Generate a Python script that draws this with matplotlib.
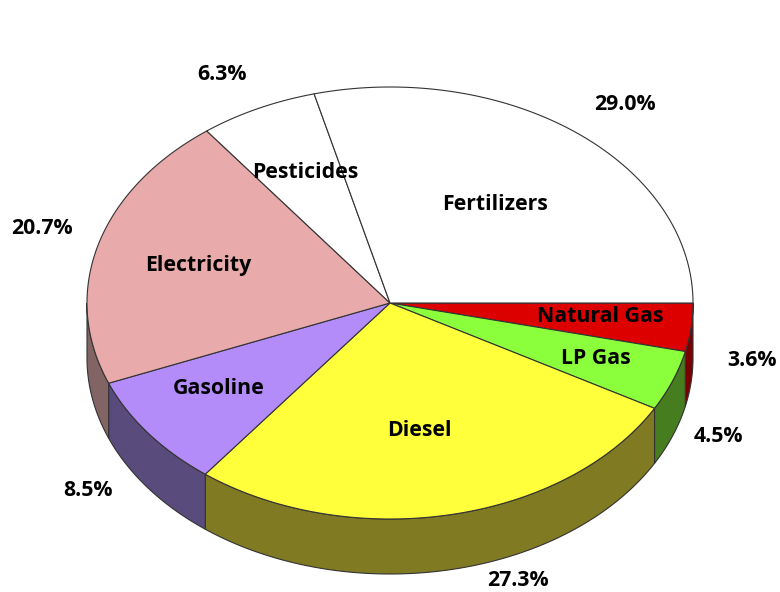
import matplotlib
matplotlib.use("Agg")
import matplotlib.pyplot as plt
import numpy as np
from matplotlib.patches import Polygon

# data, clockwise from 3 o'clock
labels = ["Natural Gas", "LP Gas", "Diesel", "Gasoline", "Electricity", "Pesticides", "Fertilizers"]
shares = [3.6, 4.5, 27.3, 8.5, 20.7, 6.3, 29.0]

top_colors = ["#dc0000", "#8cff3c", "#ffff3c", "#b48cfa", "#e8aaaa", "#ffffff", "#ffffff"]
side_colors = ["#780000", "#467d1e", "#807a23", "#5a4b7d", "#826464", "#aaaaaa", "#aaaaaa"]

# text positions (pixels)
name_pos = [(600, 317), (596, 358), (419, 430), (219, 389), (198, 265), (305, 173), (495, 205)]
pct_pos = [(752, 360), (718, 437), (518, 580), (88, 490), (42, 228), (222, 75), (625, 105)]

cx, cy = 390, 303
rx, ry = 303, 216
depth = 55
edge = "#333333"

fig = plt.figure(figsize=(7.8, 5.92), dpi=100)
ax = fig.add_axes([0, 0, 1, 1])
ax.set_xlim(0, 780)
ax.set_ylim(592, 0)
ax.axis("off")

vals = np.array(shares)
bounds = np.concatenate([[0], np.cumsum(vals) / vals.sum() * 360])


def arc(a0, a1, n=120):
    t = np.radians(np.linspace(a0, a1, n))
    return cx + rx * np.cos(t), cy + ry * np.sin(t)


# front side walls (screen angles 0..180 are the near half)
for i in range(len(shares)):
    a0, a1 = max(bounds[i], 0), min(bounds[i + 1], 180)
    if a1 <= a0:
        continue
    x, y = arc(a0, a1)
    pts = np.column_stack([np.concatenate([x, x[::-1]]),
                           np.concatenate([y, y[::-1] + depth])])
    ax.add_patch(Polygon(pts, closed=True, fc=side_colors[i], ec=edge, lw=0.8, zorder=1))

# top face
for i in range(len(shares)):
    x, y = arc(bounds[i], bounds[i + 1])
    pts = np.column_stack([np.concatenate([[cx], x]), np.concatenate([[cy], y])])
    ax.add_patch(Polygon(pts, closed=True, fc=top_colors[i], ec=edge, lw=0.8,
                         joinstyle="round", zorder=2))

font = dict(family=["Open Sans", "DejaVu Sans"], weight="bold", fontsize=15.3)
for i in range(len(shares)):
    ax.text(*name_pos[i], labels[i], ha="center", va="center", zorder=3, **font)
    ax.text(*pct_pos[i], f"{shares[i]:.1f}%", ha="center", va="center", zorder=3, **font)

fig.savefig("out.png", dpi=100)
